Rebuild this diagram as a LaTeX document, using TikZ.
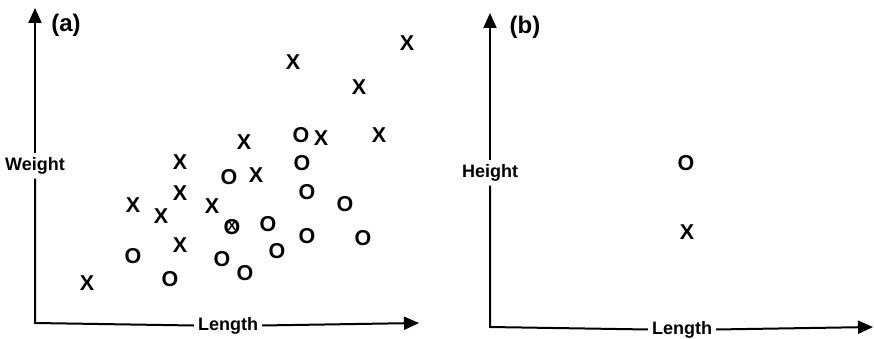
\documentclass[tikz,border=0pt]{standalone}
\usepackage{fontspec}
\setmainfont{Liberation Sans}
\usetikzlibrary{arrows.meta}
\usetikzlibrary{positioning}

\begin{document}
\begin{tikzpicture}[x = 1pt, y = -1pt,
axis/.style = {line width=2pt, black},
axisArrow/.style = {axis, -{Triangle[length=15pt, width=13pt]}},
axisLabel/.style = {fill=white, inner sep=4pt, anchor=mid, font=\fontsize{18}{18}\selectfont\bfseries},
panelLabel/.style = {inner sep=0pt, font=\fontsize{24}{24}\selectfont\bfseries},
point/.style = {inner sep=0pt, font=\fontsize{21.5}{21.5}\selectfont\bfseries},
pointX/.style = {point},
pointO/.style = {point},
pointSmallX/.style = {point, font=\fontsize{13}{13}\selectfont\bfseries}]
\useasboundingbox (0,0) rectangle (874,339);

% panel (a)
\coordinate (oA) at (35,323);
\coordinate (yA) at (35,8);
\coordinate (xA) at (419,323);
\node[axisLabel] (wA) at (35,168) {Weight};
\node[axisLabel] (lA) at (228,328) {Length};
\node[panelLabel] (a) at (66,25) {(a)};

\draw[axis] (wA) -- (oA) -- (lA);
\draw[axisArrow] (wA) -- (yA);
\draw[axisArrow] (lA) -- (xA);

\node[pointX] (x1) at (87,283) {X};
\node[pointX] (x2) at (133,205) {X};
\node[pointX] (x3) at (161,216) {X};
\node[pointX] (x4) at (180,162) {X};
\node[pointX] (x5) at (180,193) {X};
\node[pointX] (x6) at (180,245) {X};
\node[pointX] (x7) at (212,206) {X};
\node[pointX] (x8) at (244,142) {X};
\node[pointX] (x9) at (256,175) {X};
\node[pointX] (x10) at (293,62) {X};
\node[pointX] (x11) at (321,138) {X};
\node[pointX] (x12) at (359,87) {X};
\node[pointX] (x13) at (379,135) {X};
\node[pointX] (x14) at (407,43) {X};

\node[pointO] (o1) at (133,256) {O};
\node[pointO] (o2) at (170,279) {O};
\node[pointO] (o3) at (222,259) {O};
\node[pointO] (o4) at (229,177) {O};
\node[pointO] (o5) at (232,227) {O};
\node[pointO] (o6) at (245,273) {O};
\node[pointO] (o7) at (268,224) {O};
\node[pointO] (o8) at (277,251) {O};
\node[pointO] (o9) at (301,135) {O};
\node[pointO] (o10) at (302,163) {O};
\node[pointO] (o11) at (307,192) {O};
\node[pointO] (o12) at (307,236) {O};
\node[pointO] (o13) at (345,204) {O};
\node[pointO] (o14) at (363,238) {O};
\node[pointSmallX] (x15) at (232,226) {X};

% panel (b)
\coordinate (oB) at (490,327);
\coordinate (yB) at (490,13);
\coordinate (xB) at (873,327);
\node[axisLabel] (hB) at (490,175) {Height};
\node[axisLabel] (lB) at (682,332) {Length};
\node[panelLabel] (b) at (525,27) {(b)};

\draw[axis] (hB) -- (oB) -- (lB);
\draw[axisArrow] (hB) -- (yB);
\draw[axisArrow] (lB) -- (xB);

\node[pointO] (oB1) at (686,163) {O};
\node[pointX] (xB1) at (687,232) {X};

\end{tikzpicture}
\end{document}
